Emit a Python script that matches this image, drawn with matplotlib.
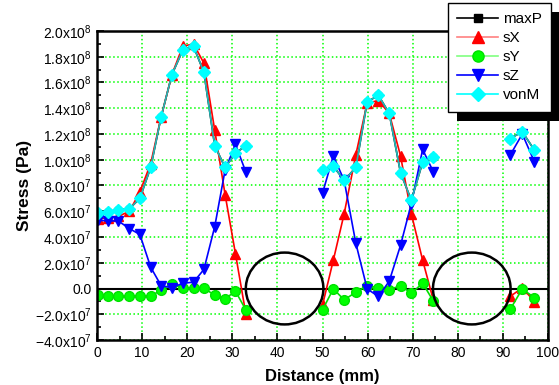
import numpy as np
import matplotlib
matplotlib.use('Agg')
import matplotlib.pyplot as plt
from matplotlib.patches import Ellipse, Rectangle
from matplotlib.ticker import MultipleLocator, FixedLocator

plt.rcParams['font.family'] = ['Liberation Sans', 'DejaVu Sans']

# distance (mm) of each measured point, NaN breaks the line between scan sections
distance = [0.3, 2.5, 4.7, 7.2, 9.5, 11.9, 14.2, 16.6, 19.0, 21.4, 23.7, 26.1, 28.4, 30.7, 33.0,
            np.nan,
            50.0, 52.4, 54.8, 57.4, 59.9, 62.4, 64.8, 67.3, 69.7, 72.2, 74.6,
            np.nan,
            91.6, 94.3, 97.0]

# stresses in MPa (x1e6 Pa)
vonM = [59, 59.5, 61, 62, 70, 94, 133, 166, 185, 188, 168, 111, 94, 105, 111,
        np.nan,
        92, 95, 84, 94, 145, 150, 136, 90, 68.5, 98, 102,
        np.nan,
        116.5, 121.7, 107.4]
maxP = [59, 59.5, 61, 62, 70, 94, 133, 166, 185, 188, 168, 111, 94, 105, 111,
        np.nan,
        92, 95, 84, 94, 145, 150, 136, 90, 68.5, 98, 102,
        np.nan,
        116.5, 121.7, 107.4]
sX = [54, 55, 56, 60, 75, 97, 133, 166, 188, 190, 175, 123, 73, 27, -19.7,
      np.nan,
      -13, 22, 58, 104, 144, 146, 136, 103, 58, 22, -9.3,
      np.nan,
      -6.2, 0.5, -10.1]
sY = [-5.4, -6.2, -6.2, -6.2, -6, -6.2, -1, 3.6, 0.5, 0.5, 0.5, -5.4, -8, -2.1, -16.6,
      np.nan,
      -16.6, -0.3, -8.8, -2.9, 2.3, 0.5, -1, 2.3, -3.7, 4.1, -9.9,
      np.nan,
      -16.3, -0.3, -7.2]
sZ = [53, 52.5, 52.5, 46.5, 42, 16.6, 2.3, 0.5, 4.1, 4.9, 14.8, 48, 92, 112, 90.5,
      np.nan,
      74, 103, 84, 35, -0.3, -6.2, 5.7, 33.5, 66, 108, 90.5,
      np.nan,
      103.5, 120, 98.3]

# circled regions (centre mm, half width mm, half height MPa)
circle_x = [41.6, 83.1]
circle_rx = 8.6
circle_ry = 27.9

yticks = [-40, -20, 0, 20, 40, 60, 80, 100, 120, 140, 160, 180, 200]
ytick_labels = [r'$\mathregular{-4.0x10^{7}}$', r'$\mathregular{-2.0x10^{7}}$', '0.0',
                r'$\mathregular{2.0x10^{7}}$', r'$\mathregular{4.0x10^{7}}$',
                r'$\mathregular{6.0x10^{7}}$', r'$\mathregular{8.0x10^{7}}$',
                r'$\mathregular{1.0x10^{8}}$', r'$\mathregular{1.2x10^{8}}$',
                r'$\mathregular{1.4x10^{8}}$', r'$\mathregular{1.6x10^{8}}$',
                r'$\mathregular{1.8x10^{8}}$', r'$\mathregular{2.0x10^{8}}$']

fig = plt.figure(figsize=(5.59, 3.85), dpi=100)
ax = fig.add_axes([97 / 559, 1 - 340 / 385, 451 / 559, 309 / 385])

d = np.array(distance)
ax.plot(d, maxP, color='black', marker='s', markersize=5, lw=1.2, label='maxP')
ax.plot(d, sX, color='red', marker='^', markersize=7, lw=1.2, label='sX')
ax.plot(d, sY, color='#00e000', marker='o', markersize=7, lw=1.2, label='sY',
        markerfacecolor='#00ff00', markeredgecolor='#00e000')
ax.plot(d, sZ, color='blue', marker='v', markersize=7, lw=1.2, label='sZ')
ax.plot(d, vonM, color='#20b8b8', marker='D', markersize=6, lw=1.2, label='vonM',
        markerfacecolor='cyan', markeredgecolor='cyan')

ax.axhline(0, color='black', lw=1.5, zorder=1)
for cx in circle_x:
    ax.add_patch(Ellipse((cx, 0), 2 * circle_rx, 2 * circle_ry, fill=False,
                         edgecolor='black', lw=1.8, zorder=6))

ax.set_xlim(0, 100)
ax.set_ylim(-40, 200)
ax.xaxis.set_major_locator(MultipleLocator(10))
ax.xaxis.set_minor_locator(MultipleLocator(5))
ax.yaxis.set_major_locator(FixedLocator(yticks))
ax.yaxis.set_minor_locator(MultipleLocator(10))
ax.set_yticklabels(ytick_labels)
ax.tick_params(which='both', direction='in', labelsize=10, width=1.2)
ax.tick_params(which='major', length=5, pad=4)
ax.tick_params(which='minor', length=3)
ax.grid(True, which='major', color='#00ff00', linestyle=':', lw=1.1)
ax.set_axisbelow(True)
for sp in ax.spines.values():
    sp.set_linewidth(1.8)

ax.set_xlabel('Distance (mm)', fontsize=12, fontweight='bold', labelpad=7)
ax.set_ylabel('Stress (Pa)', fontsize=12.5, fontweight='bold', labelpad=2)

handles, labels = ax.get_legend_handles_labels()
leg = fig.legend(handles, labels, loc='upper left', bbox_to_anchor=(448 / 559, 1 - 3 / 385),
                 fontsize=11, frameon=True, fancybox=False, handlelength=2.7,
                 labelspacing=0.33, borderpad=0.6, handletextpad=0.3,
                 borderaxespad=0, edgecolor='black', framealpha=1, markerscale=1.15)
leg.get_frame().set_linewidth(1.0)
leg.set_zorder(6)
# legend lines are drawn in lighter tints in the original
leg_line_colors = ['black', '#ff8080', '#80ff80', 'blue', 'cyan']
for ln, c in zip(leg.get_lines(), leg_line_colors):
    fc = ln.get_markerfacecolor()
    ec = ln.get_markeredgecolor()
    ln.set_color(c)
    ln.set_markerfacecolor(fc)
    ln.set_markeredgecolor(ec)

fig.canvas.draw()
bb = leg.get_window_extent()
fw, fh = fig.bbox.width, fig.bbox.height
shadow = Rectangle(((bb.x0 + 9) / fw, (bb.y0 - 9) / fh), bb.width / fw, bb.height / fh,
                   transform=fig.transFigure, facecolor='black', edgecolor='none', zorder=5)
fig.add_artist(shadow)

fig.savefig('out.png', dpi=100)
